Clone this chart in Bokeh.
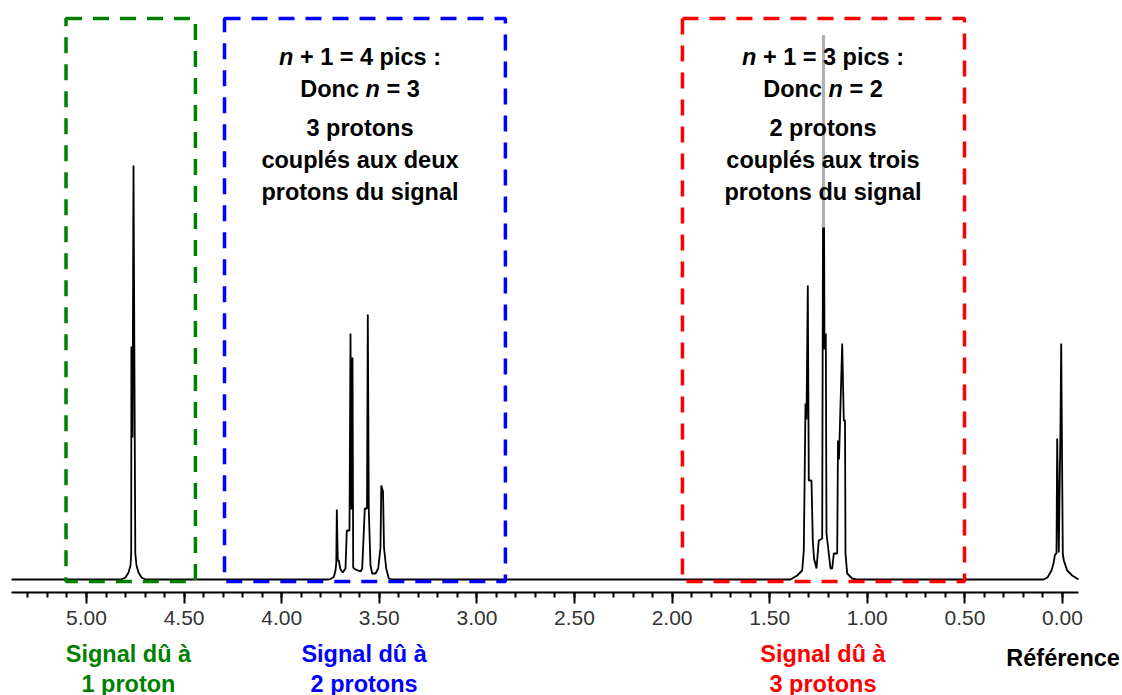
from bokeh.plotting import figure
from bokeh.models import (Range1d, SingleIntervalTicker, PrintfTickFormatter, Label,
                          ColumnDataSource, LinearAxis)
from bokeh.embed import file_html
from bokeh.resources import INLINE

# ---------------- data ----------------
# chemical shift range of the spectrum (ppm, axis reversed)
x_start, x_end = 5.384, -0.082

# spectrum vertices: chemical shift (ppm) and intensity (arbitrary, baseline = 0)
oh_ppm = [4.8207, 4.8002, 4.7848, 4.7746, 4.7710, 4.7700, 4.7643, 4.7592,
          4.7500, 4.7439, 4.7336, 4.7182, 4.6977]
oh_int = [0, 2, 7, 14, 26, 233, 142, 414, 26, 14, 7, 2, 0]

ch2_ppm = [3.7602, 3.7500, 3.7331, 3.7244, 3.7203, 3.7177, 3.7126, 3.7075,
           3.6988, 3.6870, 3.6732, 3.6665, 3.6527, 3.6475, 3.6424, 3.6373,
           3.6337, 3.6219, 3.5963, 3.5876, 3.5743, 3.5630, 3.5589, 3.5538,
           3.5451, 3.5364, 3.5195, 3.5056, 3.4939, 3.4898, 3.4810, 3.4759,
           3.4647, 3.4513, 3.4375]
ch2_int = [0, 0.5, 2.5, 9, 17, 70, 19, 19,
           10, 7, 11, 49, 49, 246, 70, 222,
           12, 10, 8, 11, 71, 71, 265, 69,
           14, 6, 6, 11, 32, 94, 88, 32,
           11, 1, 0]

ch3_ppm = [1.3934, 1.3591, 1.3335, 1.3253, 1.3166, 1.3115, 1.3048, 1.2997,
           1.2859, 1.2792, 1.2731, 1.2602, 1.2485, 1.2311, 1.2244, 1.2193,
           1.2126, 1.2090, 1.1972, 1.1885, 1.1798, 1.1716, 1.1542, 1.1501,
           1.1450, 1.1286, 1.1204, 1.1142, 1.1117, 1.1030, 1.0774, 1.0553]
ch3_int = [0, 4, 9, 29, 176, 160, 294, 99,
           99, 39, 21, 11, 39, 41, 544, 230,
           246, 46, 26, 11, 11, 26, 26, 139,
           120, 236, 159, 159, 26, 6, 1, 0]
# the central CH3 line is only black up to this intensity, grey above
ch3_black_top = 352

tms_ppm = [0.0973, 0.0768, 0.0564, 0.0461, 0.0384, 0.0307, 0.0272, 0.0190,
           0.0102, 0.0067, -0.0015, -0.0067, -0.0241, -0.0497, -0.0820]
tms_int = [0, 2, 9, 16, 25, 26, 141, 27, 156, 236, 26, 19, 9, 4, 0]

# dashed boxes (ppm limits, intensity limits)
box_left = [5.105, 4.293, 1.947]
box_right = [4.442, 2.854, 0.502]
box_top = [561, 561, 561]
box_bottom = [-2, -2, -2]
box_colors = ["#008000", "#0000ff", "#ff0000"]

# ---------------- figure ----------------
p = figure(width=1122, height=695, output_backend="svg", toolbar_location=None,
           x_range=Range1d(5.4406, -0.3074), y_range=Range1d(-116, 579),
           x_axis_location=None, y_axis_location=None,
           min_border_left=0, min_border_right=0, min_border_top=0, min_border_bottom=0)
p.outline_line_color = None
p.xgrid.visible = False
p.ygrid.visible = False
p.background_fill_color = "white"
p.border_fill_color = "white"

ax = LinearAxis(fixed_location=-13, bounds=(x_end, x_start))
ax.ticker = SingleIntervalTicker(interval=0.5, num_minor_ticks=5)
ax.formatter = PrintfTickFormatter(format="%.2f")
ax.axis_line_width = 2
ax.axis_line_color = "black"
ax.major_tick_in = 0
ax.major_tick_out = 11
ax.minor_tick_in = 0
ax.minor_tick_out = 5
ax.major_tick_line_width = 2
ax.minor_tick_line_width = 2
ax.major_tick_line_color = "black"
ax.minor_tick_line_color = "black"
ax.major_label_text_font = "Liberation Sans"
ax.major_label_text_font_size = "21px"
ax.major_label_text_color = "#333333"
ax.major_label_standoff = 7
p.add_layout(ax, "below")

ppm = [x_start] + oh_ppm + ch2_ppm + ch3_ppm + tms_ppm
inten = [0] + oh_int + ch2_int + ch3_int + tms_int
src = ColumnDataSource(dict(ppm=ppm, inten=inten))
p.line("ppm", "inten", source=src, line_color="black", line_width=1.8)

# grey upper part of the central CH3 line
i_top = ch3_int.index(max(ch3_int))
p.segment(x0=[ch3_ppm[i_top]], y0=[ch3_black_top], x1=[ch3_ppm[i_top]], y1=[ch3_int[i_top]],
          line_color="#b0b0b0", line_width=3.2)

p.quad(left=box_left, right=box_right, top=box_top, bottom=box_bottom,
       fill_color=None, line_color=box_colors, line_width=3.5, line_dash="16 11")

FONT = "Liberation Sans"
FS = "23.5px"


def lab(x, y, text, color="black", style="bold", align="center", xoff=0):
    p.add_layout(Label(x=x, y=y, text=text, text_font=FONT, text_font_size=FS,
                       text_font_style=style, text_color=color, text_align=align,
                       text_baseline="middle", x_offset=xoff))


# texts inside the blue and red boxes
for cx, nval, nline in [(3.599, "4", "3"), (1.227, "3", "2")]:
    lab(cx, 523, "n", style="bold italic", align="left", xoff=-81.0)
    lab(cx, 523, "+ 1 = " + nval + " pics :", align="left", xoff=-60.1)
    lab(cx, 491, "Donc", align="left", xoff=-59.75)
    lab(cx, 491, "n", style="bold italic", align="left", xoff=5.5)
    lab(cx, 491, "= " + nline, align="left", xoff=26.4)

lab(3.599, 452, "3 protons")
lab(3.599, 420, "couplés aux deux")
lab(3.599, 388, "protons du signal")
lab(1.227, 452, "2 protons")
lab(1.227, 420, "couplés aux trois")
lab(1.227, 388, "protons du signal")

# labels below the axis
lab(4.785, -74, "Signal dû à", color="#008000")
lab(4.785, -104, "1 proton", color="#008000")
lab(3.578, -74, "Signal dû à", color="#0000ff")
lab(3.578, -104, "2 protons", color="#0000ff")
lab(1.227, -74, "Signal dû à", color="#ff0000")
lab(1.227, -104, "3 protons", color="#ff0000")
lab(-0.003, -78, "Référence")

open("out.html", "w").write(file_html(p, INLINE))
